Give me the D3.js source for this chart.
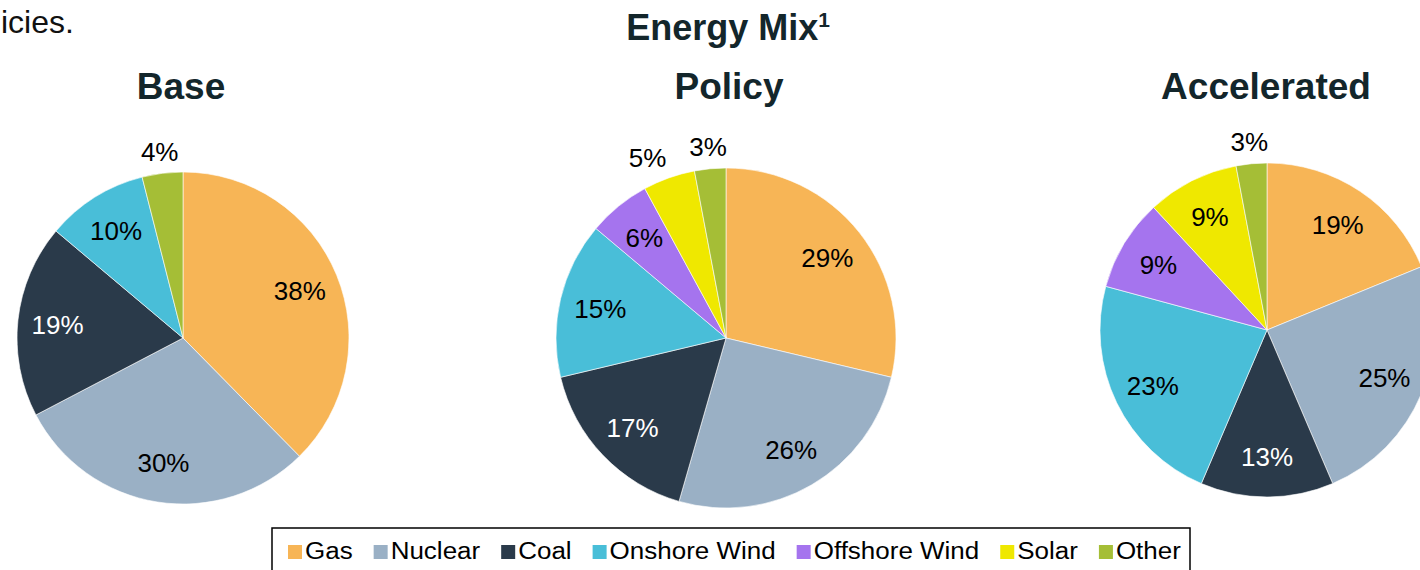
<!DOCTYPE html>
<html>
<head>
<meta charset="utf-8">
<script src="https://cdn.jsdelivr.net/npm/d3@7"></script>
<style>
  html, body { margin: 0; padding: 0; background: #fff; }
  svg { display: block; font-family: "Liberation Sans", Arial, sans-serif; }
</style>
</head>
<body>
<svg id="chart" width="1420" height="570"></svg>
<script>
// ---- data ----
const categories = ["Gas", "Nuclear", "Coal", "Onshore Wind", "Offshore Wind", "Solar", "Other"];
const colors = ["#F7B556", "#9AB0C5", "#2A3A4A", "#49BED8", "#A574EE", "#EFE800", "#A5BE36"];
const scenarios = ["Base", "Policy", "Accelerated"];
const baseValues = [38, 30, 19, 10, 0, 0, 4];
const policyValues = [29, 26, 17, 15, 6, 5, 3];
const acceleratedValues = [19, 25, 13, 23, 9, 9, 3];
const chartTitle = "Energy Mix";
const titleSup = "1";
const leadText = "icies.";

// ---- layout ----
const seriesValues = [baseValues, policyValues, acceleratedValues];
const pieLayout = [
  { cx: 183, cy: 338, r: 166, titleX: 181 },
  { cx: 726, cy: 338, r: 170, titleX: 729 },
  { cx: 1267, cy: 330, r: 167, titleX: 1266 }
];

const svg = d3.select("#chart");
const color = d3.scaleOrdinal().domain(categories).range(colors);

// lead text (continuation of a sentence from the page)
svg.append("text").attr("x", 1).attr("y", 33)
  .attr("font-size", 32).attr("fill", "#111").text(leadText);

// title
const t = svg.append("text").attr("x", 728).attr("y", 40).attr("text-anchor", "middle")
  .attr("font-size", 36).attr("font-weight", "bold").attr("fill", "#13262B");
t.append("tspan").text(chartTitle);
t.append("tspan").attr("font-size", 21).attr("dy", -13).text(titleSup);

const pie = d3.pie().sort(null).value(d => d.value);

scenarios.forEach((name, i) => {
  const L = pieLayout[i];
  svg.append("text").attr("x", L.titleX).attr("y", 99).attr("text-anchor", "middle")
    .attr("font-size", 37).attr("font-weight", "bold").attr("fill", "#13262B").text(name);

  const data = categories.map((c, k) => ({ cat: c, value: seriesValues[i][k] }));
  const arcs = pie(data).filter(a => a.data.value > 0);
  const arc = d3.arc().innerRadius(0).outerRadius(L.r);
  const inner = d3.arc().innerRadius(L.r * 0.76).outerRadius(L.r * 0.76);
  const outer = d3.arc().innerRadius(L.r + 22).outerRadius(L.r + 22);

  const g = svg.append("g").attr("transform", `translate(${L.cx},${L.cy})`);
  g.selectAll("path").data(arcs).join("path")
    .attr("d", arc).attr("fill", d => color(d.data.cat))
    .attr("stroke", "#fff").attr("stroke-width", 0.6);

  g.selectAll("text").data(arcs).join("text")
    .attr("transform", d => {
      const o = d.data.value <= 5;
      let [x, y] = (o ? outer : inner).centroid(d);
      if (o && d.data.cat === "Solar") { x -= 14; }
      return `translate(${x},${y})`;
    })
    .attr("text-anchor", "middle").attr("dy", "0.36em")
    .attr("font-size", 26)
    .attr("fill", d => (d.data.cat === "Coal" ? "#fff" : "#000"))
    .text(d => d.data.value + "%");
});

// legend
const lg = svg.append("g");
lg.append("rect").attr("x", 272).attr("y", 528).attr("width", 918).attr("height", 60)
  .attr("fill", "#fff").attr("stroke", "#000").attr("stroke-width", 1.5);
let lx = 288;
const sx = 1.13;
categories.forEach((c) => {
  lg.append("rect").attr("x", lx).attr("y", 545).attr("width", 14).attr("height", 14)
    .attr("fill", color(c));
  const tg = lg.append("g").attr("transform", `translate(${lx + 17},558.5) scale(${sx},1)`);
  const tx = tg.append("text").attr("font-size", 23).attr("fill", "#000").text(c);
  const w = tx.node().getComputedTextLength() * sx;
  lx = lx + 17 + w + 21;
});
</script>
</body>
</html>
